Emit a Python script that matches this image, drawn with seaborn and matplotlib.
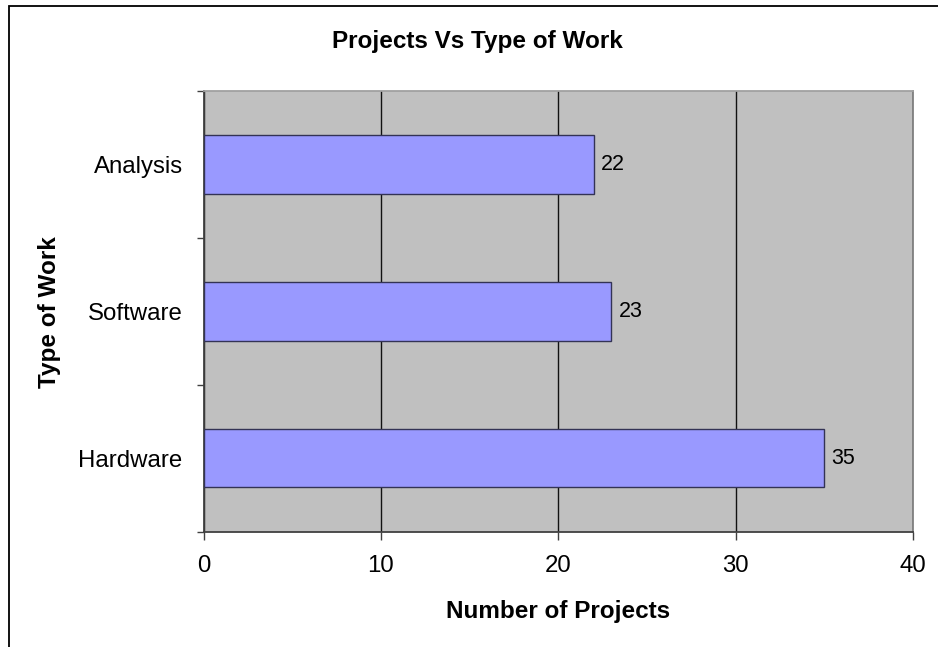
import matplotlib
matplotlib.use("Agg")
import matplotlib.pyplot as plt
import seaborn as sns
import pandas as pd
from matplotlib.patches import Rectangle

categories = ["Analysis", "Software", "Hardware"]
projects = [22, 23, 35]
x_ticks = [0, 10, 20, 30, 40]

df = pd.DataFrame({"Type of Work": categories, "Number of Projects": projects})

sns.set_theme(style="white")
plt.rcParams["font.family"] = ["Liberation Sans", "DejaVu Sans"]
plt.rcParams["text.color"] = "black"
plt.rcParams["axes.labelcolor"] = "black"
plt.rcParams["xtick.color"] = "black"
plt.rcParams["ytick.color"] = "black"

W, H = 938, 647
fig = plt.figure(figsize=(W / 100, H / 100), dpi=100)
fig.patch.set_facecolor("white")

# chart frame (runs off the right and bottom edges)
fig.patches.append(Rectangle((8.5 / W, -0.1), 1.2, 1 - 5.5 / H + 0.1,
                             transform=fig.transFigure, fill=False,
                             edgecolor="black", lw=1.3))

left, right, top, bottom = 203.5, 913, 91, 531.5
ax = fig.add_axes([left / W, 1 - bottom / H, (right - left) / W, (bottom - top) / H])
ax.set_facecolor("#C0C0C0")

sns.barplot(data=df, y="Type of Work", x="Number of Projects", order=categories,
            orient="h", width=0.4, color="#9999FF", saturation=1,
            edgecolor="#333355", linewidth=1.0, ax=ax, zorder=3)

ax.set_xlim(0, 40)
ax.set_ylim(2.5, -0.5)
ax.set_xticks(x_ticks)
ax.set_xticklabels([str(t) for t in x_ticks])
ax.grid(axis="x", color="#111111", lw=1.0, zorder=1)
ax.grid(axis="y", visible=False)
ax.set_axisbelow(True)

# category labels centred, tick marks on category boundaries
ax.set_yticks(range(len(categories)))
ax.set_yticklabels(categories)
ax.set_yticks([-0.5, 0.5, 1.5, 2.5], minor=True)
ax.tick_params(axis="y", which="major", length=0, pad=15, labelsize=17.3, labelcolor="black")
ax.tick_params(axis="y", which="minor", length=5.2, width=1, direction="out", color="#404040", left=True)
ax.tick_params(axis="x", which="major", length=5.8, width=1, direction="out", color="#404040",
               pad=11, labelsize=17.3, labelcolor="black", bottom=True)

ax.set_xlabel("")
ax.set_ylabel("")

for side, col in [("left", "#404040"), ("bottom", "#404040"), ("top", "#A0A0A0"), ("right", "#808080")]:
    ax.spines[side].set_visible(True)
    ax.spines[side].set_color(col)
    ax.spines[side].set_linewidth(1.3)

for i, v in enumerate(projects):
    ax.annotate(str(v), xy=(v, i), xytext=(5, 0), textcoords="offset points",
                ha="left", va="center", fontsize=15.5, color="black")

fig.text(477 / W, 1 - 48 / H, "Projects Vs Type of Work", ha="center", va="baseline",
         fontsize=17.5, fontweight="bold", color="black")
fig.text(558 / W, 1 - 618 / H, "Number of Projects", ha="center", va="baseline",
         fontsize=17.5, fontweight="bold", color="black")
fig.text(50 / W, 1 - 312 / H, "Type of Work", ha="center", va="center", rotation=90,
         fontsize=17.5, fontweight="bold", color="black")

fig.savefig("out.png", dpi=100)
